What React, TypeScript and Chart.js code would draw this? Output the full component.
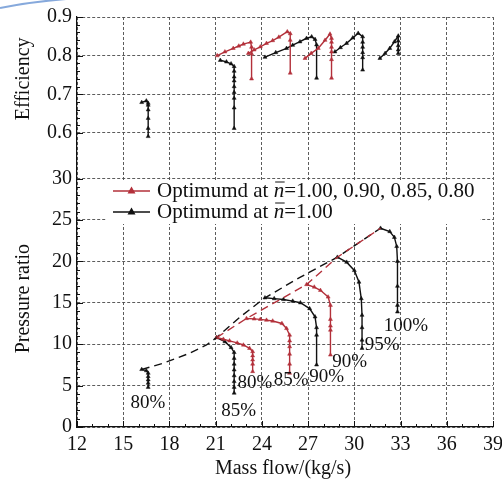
import React, { useEffect, useRef } from "react";
import { Chart, registerables } from "chart.js";
Chart.register(...registerables);

const FONT = '"Liberation Serif", "Times New Roman", serif';
const RED = "#b3303a";
const BLACK = "#111111";
const GRID = "#4a4a4a";

// axis ticks
const xTickValues = [12, 15, 18, 21, 24, 27, 30, 33, 36, 39];
const pressureTicks = [0, 5, 10, 15, 20, 25, 30];
const efficiencyTicks = [0.6, 0.7, 0.8, 0.9];

// efficiency panel is stacked above the pressure panel on one shared value axis
const EFF_BASE = 35.5; // axis value where efficiency 0.6 sits
const EFF_SCALE = 46.67; // axis units per 1.0 efficiency
const toEff = (e: number) => EFF_BASE + (e - 0.6) * EFF_SCALE;
const fromEff = (v: number) => (v - EFF_BASE) / EFF_SCALE + 0.6;

// ---- Pressure ratio, design optimum at n=1.00 (black speed lines) ----
const prBlack80 = [[16.2, 6.95], [16.5, 6.8], [16.62, 6.5], [16.62, 6.1], [16.62, 5.7], [16.62, 5.3], [16.62, 4.8]];
const prBlack85 = [[21.06, 10.8], [21.6, 10.3], [22.0, 9.6], [22.2, 9.0], [22.2, 8.3], [22.2, 7.6], [22.2, 6.9], [22.2, 6.2], [22.2, 5.5], [22.2, 4.8], [22.2, 4.1]];
const prBlack90 = [[24.2, 15.6], [24.8, 15.5], [25.4, 15.4], [26.0, 15.2], [26.5, 15.0], [27.1, 14.3], [27.45, 13.3], [27.55, 12.0], [27.55, 11.1], [27.55, 7.5]];
const prBlack95 = [[28.9, 20.5], [29.5, 19.9], [30.0, 18.9], [30.3, 17.5], [30.45, 15.5], [30.5, 13.5], [30.5, 12.0], [30.5, 10.5], [30.5, 9.5]];
const prBlack100 = [[31.7, 24.0], [32.3, 23.6], [32.6, 22.9], [32.75, 21.8], [32.8, 20.0], [32.8, 17.0], [32.8, 14.7], [32.8, 13.9]];
const prBlackPeaks = [[16.2, 6.95], [17.6, 7.7], [19.3, 8.9], [20.4, 9.9], [21.06, 10.8], [22.6, 13.3], [24.2, 15.6], [26.5, 18.1], [28.9, 20.5], [31.7, 24.0]];

// ---- Pressure ratio, optimum at each speed (red speed lines) ----
const prRed80 = [[21.06, 10.8], [21.5, 10.6], [21.9, 10.4], [22.4, 10.15], [22.8, 9.9], [23.2, 9.5], [23.4, 9.1], [23.4, 8.6], [23.4, 8.1], [23.4, 7.6], [23.4, 6.7]];
const prRed85 = [[23.0, 13.1], [23.5, 13.05], [23.9, 13.0], [24.3, 12.9], [24.7, 12.8], [25.3, 12.5], [25.6, 11.9], [25.8, 11.1], [25.8, 10.4], [25.8, 9.7], [25.8, 8.8], [25.8, 7.6], [25.8, 6.5]];
const prRed90 = [[26.9, 17.2], [27.4, 16.9], [27.8, 16.5], [28.3, 15.7], [28.45, 14.7], [28.45, 13.0], [28.45, 12.2], [28.45, 11.7], [28.45, 8.7]];
const prRedPeaks = [[21.06, 10.8], [23.0, 13.1], [26.9, 17.2], [28.9, 20.5], [31.7, 24.0]];

// ---- Efficiency, black ----
const effBlack80 = [[16.2, 0.679], [16.5, 0.683], [16.62, 0.677], [16.62, 0.672], [16.62, 0.66], [16.62, 0.638], [16.62, 0.612], [16.62, 0.591]];
const effBlack85 = [[21.3, 0.788], [21.7, 0.784], [22.0, 0.779], [22.2, 0.772], [22.2, 0.76], [22.2, 0.745], [22.2, 0.735], [22.2, 0.72], [22.2, 0.705], [22.2, 0.69], [22.2, 0.665], [22.2, 0.612]];
const effBlack90 = [[24.2, 0.796], [24.9, 0.808], [25.6, 0.819], [26.0, 0.827], [26.47, 0.836], [26.9, 0.845], [27.23, 0.849], [27.45, 0.842], [27.55, 0.828], [27.55, 0.742]];
const effBlack95 = [[28.74, 0.81], [29.1, 0.821], [29.5, 0.832], [29.9, 0.846], [30.25, 0.858], [30.54, 0.849], [30.54, 0.835], [30.54, 0.822], [30.54, 0.808], [30.54, 0.795], [30.54, 0.763]];
const effBlack100 = [[31.66, 0.793], [32.0, 0.806], [32.3, 0.819], [32.6, 0.836], [32.85, 0.851], [32.85, 0.838], [32.85, 0.826], [32.85, 0.815], [32.85, 0.806]];

// ---- Efficiency, red ----
const effRed80 = [[21.1, 0.80], [21.6, 0.81], [22.14, 0.819], [22.5, 0.825], [22.8, 0.83], [23.27, 0.835], [23.33, 0.822], [23.33, 0.805], [23.33, 0.74]];
const effRed85 = [[23.12, 0.806], [23.5, 0.815], [23.9, 0.823], [24.3, 0.832], [24.7, 0.839], [25.1, 0.848], [25.65, 0.862], [25.84, 0.857], [25.84, 0.84], [25.84, 0.755]];
const effRed90 = [[26.8, 0.793], [27.2, 0.806], [27.66, 0.819], [28.1, 0.84], [28.42, 0.856], [28.52, 0.845], [28.52, 0.835], [28.52, 0.822], [28.52, 0.81], [28.52, 0.79], [28.52, 0.742]];

// ---- speed annotations (text, mass flow, pressure ratio) ----
const speedLabels = ["80%", "85%", "80%", "85%", "90%", "90%", "95%", "100%"];
const speedLabelX = [16.6, 22.5, 23.55, 25.9, 28.2, 29.7, 31.8, 33.35];
const speedLabelY = [2.9, 1.95, 5.3, 5.65, 6.0, 7.8, 9.9, 12.2];

const legendRed = ["Optimumd at ", "n", "=1.00, 0.90, 0.85, 0.80"];
const legendBlack = ["Optimumd at ", "n", "=1.00"];

const toPts = (arr: number[][], eff = false) => arr.map(([x, y]) => ({ x, y: eff ? toEff(y) : y }));

function series(data: number[][], color: string, eff = false, dashed = false) {
  return {
    data: toPts(data, eff),
    borderColor: color,
    backgroundColor: color,
    borderWidth: 1.4,
    borderDash: dashed ? [8, 5] : [],
    pointStyle: "triangle",
    pointRadius: dashed ? 0 : 2.3,
    pointHoverRadius: dashed ? 0 : 2.3,
    pointBorderWidth: 0.5,
    showLine: true,
    tension: 0,
  };
}

export default function App() {
  const ref = useRef<HTMLCanvasElement | null>(null);

  useEffect(() => {
    document.body.style.margin = "0";
    const canvas = ref.current!;
    const yTickVals = [...pressureTicks, ...efficiencyTicks.map(toEff)];

    const decor = {
      id: "decor",
      beforeDatasetsDraw(chart: any) {
        const { ctx, scales } = chart;
        const xs = scales.x, ys = scales.y;
        const area = chart.chartArea;
        // legend box
        ctx.save();
        ctx.fillStyle = "#ffffff";
        ctx.fillRect(106, 180, 374, 44);
        const rows = [
          { parts: legendRed, color: RED, y: 191 },
          { parts: legendBlack, color: BLACK, y: 212 },
        ];
        ctx.textBaseline = "middle";
        for (const r of rows) {
          ctx.strokeStyle = r.color;
          ctx.fillStyle = r.color;
          ctx.lineWidth = 1.4;
          ctx.beginPath();
          ctx.moveTo(113, r.y);
          ctx.lineTo(150, r.y);
          ctx.stroke();
          ctx.beginPath();
          ctx.moveTo(131.5, r.y - 4.5);
          ctx.lineTo(135.5, r.y + 2.5);
          ctx.lineTo(127.5, r.y + 2.5);
          ctx.closePath();
          ctx.fill();
          ctx.fillStyle = BLACK;
          let x = 157;
          ctx.font = `21px ${FONT}`;
          ctx.fillText(r.parts[0], x, r.y);
          x += ctx.measureText(r.parts[0]).width;
          ctx.font = `italic 21px ${FONT}`;
          ctx.fillText(r.parts[1], x, r.y);
          const nw = ctx.measureText(r.parts[1]).width;
          ctx.strokeStyle = BLACK;
          ctx.lineWidth = 1;
          ctx.beginPath();
          ctx.moveTo(x + 1.5, r.y - 9);
          ctx.lineTo(x + nw + 0.5, r.y - 9);
          ctx.stroke();
          x += nw;
          ctx.font = `21px ${FONT}`;
          ctx.fillText(r.parts[2], x, r.y);
        }
        ctx.restore();

        // inward ticks
        ctx.save();
        ctx.strokeStyle = BLACK;
        ctx.lineWidth = 1;
        const L = area.left, B = area.bottom;
        for (let v = 12; v <= 39; v += 1) {
          const px = Math.round(xs.getPixelForValue(v)) + 0.5;
          const len = (v - 12) % 3 === 0 ? 6 : 3;
          ctx.beginPath();
          ctx.moveTo(px, B);
          ctx.lineTo(px, B - len);
          ctx.stroke();
        }
        for (let v = 0; v <= 30; v += 1) {
          const py = Math.round(ys.getPixelForValue(v)) + 0.5;
          const len = v % 5 === 0 ? 6 : 3;
          ctx.beginPath();
          ctx.moveTo(L, py);
          ctx.lineTo(L + len, py);
          ctx.stroke();
        }
        for (let i = 0; i <= 15; i++) {
          const e = 0.6 + i * 0.02;
          const py = Math.round(ys.getPixelForValue(toEff(e))) + 0.5;
          const len = i % 5 === 0 ? 6 : 3;
          ctx.beginPath();
          ctx.moveTo(L, py);
          ctx.lineTo(L + len, py);
          ctx.stroke();
        }
        ctx.restore();
      },
      afterDraw(chart: any) {
        const { ctx, scales } = chart;
        const xs = scales.x, ys = scales.y;
        ctx.save();
        ctx.fillStyle = BLACK;
        ctx.font = `19px ${FONT}`;
        ctx.textAlign = "center";
        ctx.textBaseline = "middle";
        speedLabels.forEach((t, i) => {
          ctx.fillText(t, xs.getPixelForValue(speedLabelX[i]), ys.getPixelForValue(speedLabelY[i]));
        });
        // titles
        ctx.font = `20px ${FONT}`;
        ctx.fillText("Mass flow/(kg/s)", 283, 469);
        ctx.save();
        ctx.translate(24, ys.getPixelForValue(toEff(0.74)));
        ctx.rotate(-Math.PI / 2);
        ctx.fillText("Efficiency", 0, 0);
        ctx.restore();
        ctx.save();
        ctx.translate(24, ys.getPixelForValue(15.5));
        ctx.rotate(-Math.PI / 2);
        ctx.fillText("Pressure ratio", 0, 0);
        ctx.restore();
        // decorative arc
        ctx.strokeStyle = "#86a9dc";
        ctx.lineWidth = 2;
        ctx.beginPath();
        ctx.moveTo(0, 8);
        ctx.quadraticCurveTo(30, 2, 66, -1);
        ctx.stroke();
        ctx.restore();
      },
    };

    const chart = new Chart(canvas, {
      type: "scatter",
      data: {
        datasets: [
          { ...series(prRedPeaks, RED, false, true), order: 1 },
          { ...series(prBlackPeaks, BLACK, false, true), order: 2 },
          { ...series(prRed80, RED), order: 3 },
          { ...series(prRed85, RED), order: 3 },
          { ...series(prRed90, RED), order: 3 },
          { ...series(prBlack80, BLACK), order: 4 },
          { ...series(prBlack85, BLACK), order: 4 },
          { ...series(prBlack90, BLACK), order: 4 },
          { ...series(prBlack95, BLACK), order: 4 },
          { ...series(prBlack100, BLACK), order: 4 },
          { ...series(effRed80, RED, true), order: 3 },
          { ...series(effRed85, RED, true), order: 3 },
          { ...series(effRed90, RED, true), order: 3 },
          { ...series(effBlack80, BLACK, true), order: 4 },
          { ...series(effBlack85, BLACK, true), order: 4 },
          { ...series(effBlack90, BLACK, true), order: 4 },
          { ...series(effBlack95, BLACK, true), order: 4 },
          { ...series(effBlack100, BLACK, true), order: 4 },
        ] as any,
      },
      options: {
        animation: false,
        responsive: false,
        maintainAspectRatio: false,
        events: [],
        layout: { padding: { top: 17, right: 9, left: 0, bottom: 0 } },
        plugins: { legend: { display: false }, tooltip: { enabled: false } },
        scales: {
          x: {
            type: "linear",
            min: 12,
            max: 39,
            afterBuildTicks: (s: any) => {
              s.ticks = xTickValues.map((v) => ({ value: v }));
            },
            afterFit: (s: any) => {
              s.height = 57;
              s.paddingLeft = 0;
              s.paddingRight = 0;
            },
            ticks: { font: { family: FONT, size: 20 }, color: BLACK, padding: 6, maxRotation: 0, autoSkip: false },
            grid: { color: GRID, lineWidth: 0.9, drawTicks: false },
            border: { display: true, color: BLACK, width: 1.2, dash: [3, 2] },
          },
          y: {
            type: "linear",
            min: 0,
            max: toEff(0.9),
            afterBuildTicks: (s: any) => {
              s.ticks = yTickVals.map((v) => ({ value: v }));
            },
            afterFit: (s: any) => {
              s.width = 77;
              s.paddingTop = 0;
              s.paddingBottom = 0;
            },
            ticks: {
              font: { family: FONT, size: 20 },
              color: BLACK,
              padding: 5,
              autoSkip: false,
              callback: (v: any) => (v <= 30.5 ? String(Math.round(v)) : fromEff(v).toFixed(1)),
            },
            grid: { color: GRID, lineWidth: 0.9, drawTicks: false },
            border: { display: true, color: BLACK, width: 1.2, dash: [3, 2] },
          },
        },
      } as any,
      plugins: [decor],
    });
    return () => chart.destroy();
  }, []);

  return <canvas ref={ref} width={502} height={484} style={{ display: "block" }} />;
}
